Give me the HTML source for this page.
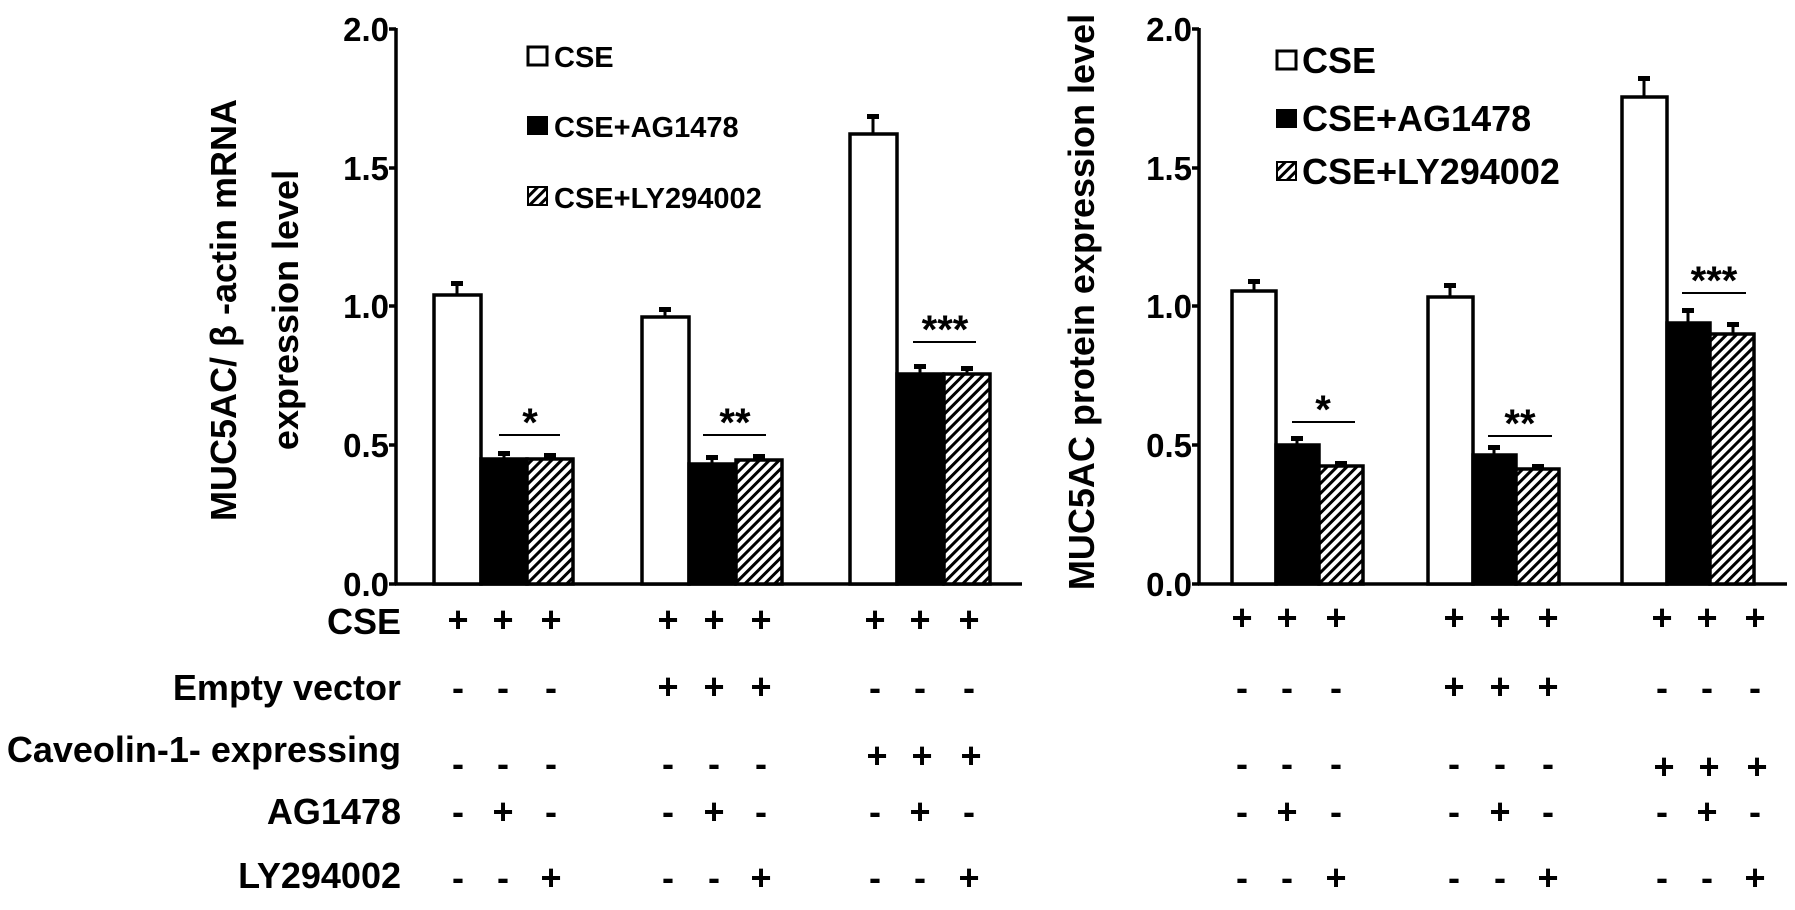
<!DOCTYPE html>
<html><head><meta charset="utf-8"><style>
html,body{margin:0;padding:0;background:#fff}
svg text{font-family:"Liberation Sans",Arial,sans-serif;font-weight:bold;fill:#000}
</style></head><body>
<svg width="1795" height="905" viewBox="0 0 1795 905" xmlns="http://www.w3.org/2000/svg">
<defs>
<pattern id="h" patternUnits="userSpaceOnUse" width="7" height="7" patternTransform="rotate(45)">
<rect width="7" height="7" fill="#fff"/><rect x="0" y="0" width="3" height="7" fill="#000"/>
</pattern>
</defs>
<g stroke="#000" stroke-width="3.5">
<line x1="396" y1="28" x2="396" y2="585"/>
<line x1="395" y1="584" x2="1022" y2="584"/>
<line x1="389" y1="29" x2="396" y2="29"/><line x1="389" y1="168" x2="396" y2="168"/><line x1="389" y1="306" x2="396" y2="306"/><line x1="389" y1="445" x2="396" y2="445"/><line x1="389" y1="584" x2="396" y2="584"/>
<line x1="1199" y1="28" x2="1199" y2="585"/>
<line x1="1198" y1="584" x2="1787" y2="584"/>
<line x1="1192" y1="29" x2="1199" y2="29"/><line x1="1192" y1="168" x2="1199" y2="168"/><line x1="1192" y1="306" x2="1199" y2="306"/><line x1="1192" y1="445" x2="1199" y2="445"/><line x1="1192" y1="584" x2="1199" y2="584"/>
</g>
<g stroke="#000" stroke-width="3">
<line x1="457" y1="295" x2="457" y2="283"/><line x1="504" y1="459" x2="504" y2="453"/><line x1="550" y1="459" x2="550" y2="455"/>
<line x1="665" y1="317" x2="665" y2="309"/><line x1="712" y1="464" x2="712" y2="457"/><line x1="759" y1="460" x2="759" y2="456"/>
<line x1="873" y1="134" x2="873" y2="116"/><line x1="920" y1="374" x2="920" y2="366"/><line x1="967" y1="374" x2="967" y2="368"/>
<line x1="1254" y1="291" x2="1254" y2="281"/><line x1="1297" y1="445" x2="1297" y2="438"/><line x1="1341" y1="466" x2="1341" y2="463"/>
<line x1="1450" y1="297" x2="1450" y2="285"/><line x1="1494" y1="455" x2="1494" y2="447"/><line x1="1538" y1="469" x2="1538" y2="466"/>
<line x1="1644" y1="97" x2="1644" y2="78"/><line x1="1688" y1="323" x2="1688" y2="310"/><line x1="1733" y1="334" x2="1733" y2="324"/>
</g>
<g fill="#000">
<rect x="451" y="281" width="12" height="5"/><rect x="498" y="451" width="12" height="5"/><rect x="544" y="453" width="12" height="5"/>
<rect x="659" y="307" width="12" height="5"/><rect x="706" y="455" width="12" height="5"/><rect x="753" y="454" width="12" height="5"/>
<rect x="867" y="114" width="12" height="5"/><rect x="914" y="364" width="12" height="5"/><rect x="961" y="366" width="12" height="5"/>
<rect x="1248" y="279" width="12" height="5"/><rect x="1291" y="436" width="12" height="5"/><rect x="1335" y="461" width="12" height="5"/>
<rect x="1444" y="283" width="12" height="5"/><rect x="1488" y="445" width="12" height="5"/><rect x="1532" y="464" width="12" height="5"/>
<rect x="1638" y="76" width="12" height="5"/><rect x="1682" y="308" width="12" height="5"/><rect x="1727" y="322" width="12" height="5"/>
</g>
<g stroke="#000" stroke-width="3.5">
<rect x="434" y="295" width="47" height="289" fill="#fff"/><rect x="481" y="459" width="46" height="125" fill="#000"/><rect x="527" y="459" width="46" height="125" fill="url(#h)"/>
<rect x="642" y="317" width="47" height="267" fill="#fff"/><rect x="689" y="464" width="46" height="120" fill="#000"/><rect x="736" y="460" width="46" height="124" fill="url(#h)"/>
<rect x="850" y="134" width="47" height="450" fill="#fff"/><rect x="897" y="374" width="46" height="210" fill="#000"/><rect x="944" y="374" width="46" height="210" fill="url(#h)"/>
<rect x="1232" y="291" width="44" height="293" fill="#fff"/><rect x="1276" y="445" width="43" height="139" fill="#000"/><rect x="1319" y="466" width="44" height="118" fill="url(#h)"/>
<rect x="1428" y="297" width="45" height="287" fill="#fff"/><rect x="1473" y="455" width="43" height="129" fill="#000"/><rect x="1516" y="469" width="43" height="115" fill="url(#h)"/>
<rect x="1622" y="97" width="45" height="487" fill="#fff"/><rect x="1667" y="323" width="43" height="261" fill="#000"/><rect x="1710" y="334" width="44" height="250" fill="url(#h)"/>
</g>
<g stroke="#000" stroke-width="2">
<line x1="499" y1="435" x2="560" y2="435"/><line x1="703" y1="435" x2="766" y2="435"/><line x1="913" y1="342" x2="976" y2="342"/>
<line x1="1292" y1="422" x2="1355" y2="422"/><line x1="1488" y1="436" x2="1552" y2="436"/><line x1="1682" y1="293" x2="1746" y2="293"/>
</g>
<g font-size="40" text-anchor="middle">
<text x="530" y="436">*</text><text x="735" y="436">**</text><text x="945" y="343">***</text>
<text x="1323" y="423">*</text><text x="1520" y="437">**</text><text x="1714" y="294">***</text>
</g>
<g font-size="33" text-anchor="end">
<text x="389" y="41">2.0</text><text x="389" y="180">1.5</text><text x="389" y="318">1.0</text><text x="389" y="457">0.5</text><text x="389" y="596">0.0</text>
<text x="1192" y="41">2.0</text><text x="1192" y="180">1.5</text><text x="1192" y="318">1.0</text><text x="1192" y="457">0.5</text><text x="1192" y="596">0.0</text>
</g>
<g font-size="36" text-anchor="middle">
<text transform="translate(236,310) rotate(-90)">MUC5AC/ β -actin mRNA</text>
<text transform="translate(298,310) rotate(-90)">expression level</text>
<text transform="translate(1094,302) rotate(-90)">MUC5AC protein expression level</text>
</g>
<rect x="528" y="47" width="19" height="18" fill="#fff" stroke="#000" stroke-width="3"/>
<text x="554" y="67" font-size="29">CSE</text>
<rect x="527" y="116" width="21" height="19" fill="#000"/>
<text x="554" y="137" font-size="29">CSE+AG1478</text>
<rect x="528" y="187" width="19" height="18" fill="url(#h)" stroke="#000" stroke-width="2"/>
<text x="554" y="208" font-size="29">CSE+LY294002</text>
<rect x="1277" y="51" width="19" height="18" fill="#fff" stroke="#000" stroke-width="3"/>
<text x="1302" y="73" font-size="36">CSE</text>
<rect x="1276" y="109" width="21" height="19" fill="#000"/>
<text x="1302" y="131" font-size="36">CSE+AG1478</text>
<rect x="1277" y="162" width="19" height="18" fill="url(#h)" stroke="#000" stroke-width="2"/>
<text x="1302" y="184" font-size="36">CSE+LY294002</text>
<g font-size="36" text-anchor="end">
<text x="401" y="634">CSE</text>
<text x="401" y="700">Empty vector</text>
<text x="401" y="762">Caveolin-1- expressing</text>
<text x="401" y="824">AG1478</text>
<text x="401" y="888">LY294002</text>
</g>
<g font-size="36" text-anchor="middle">
<text x="458" y="632">+</text><text x="503" y="632">+</text><text x="551" y="632">+</text><text x="668" y="632">+</text><text x="714" y="632">+</text><text x="761" y="632">+</text><text x="875" y="632">+</text><text x="920" y="632">+</text><text x="969" y="632">+</text>
<text x="1242" y="630">+</text><text x="1287" y="630">+</text><text x="1336" y="630">+</text><text x="1454" y="630">+</text><text x="1500" y="630">+</text><text x="1548" y="630">+</text><text x="1662" y="630">+</text><text x="1707" y="630">+</text><text x="1755" y="630">+</text>

<text x="458" y="700">-</text><text x="503" y="700">-</text><text x="551" y="700">-</text><text x="668" y="699">+</text><text x="714" y="699">+</text><text x="761" y="699">+</text><text x="875" y="700">-</text><text x="920" y="700">-</text><text x="969" y="700">-</text>
<text x="1242" y="700">-</text><text x="1287" y="700">-</text><text x="1336" y="700">-</text><text x="1454" y="699">+</text><text x="1500" y="699">+</text><text x="1548" y="699">+</text><text x="1662" y="700">-</text><text x="1707" y="700">-</text><text x="1755" y="700">-</text>

<text x="458" y="776">-</text><text x="503" y="776">-</text><text x="551" y="776">-</text><text x="668" y="776">-</text><text x="714" y="776">-</text><text x="761" y="776">-</text><text x="877" y="768">+</text><text x="922" y="768">+</text><text x="971" y="768">+</text>
<text x="1242" y="776">-</text><text x="1287" y="776">-</text><text x="1336" y="776">-</text><text x="1454" y="776">-</text><text x="1500" y="776">-</text><text x="1548" y="776">-</text><text x="1664" y="779">+</text><text x="1709" y="779">+</text><text x="1757" y="779">+</text>

<text x="458" y="824">-</text><text x="503" y="824">+</text><text x="551" y="824">-</text><text x="668" y="824">-</text><text x="714" y="824">+</text><text x="761" y="824">-</text><text x="875" y="824">-</text><text x="920" y="824">+</text><text x="969" y="824">-</text>
<text x="1242" y="824">-</text><text x="1287" y="824">+</text><text x="1336" y="824">-</text><text x="1454" y="824">-</text><text x="1500" y="824">+</text><text x="1548" y="824">-</text><text x="1662" y="824">-</text><text x="1707" y="824">+</text><text x="1755" y="824">-</text>

<text x="458" y="890">-</text><text x="503" y="890">-</text><text x="551" y="890">+</text><text x="668" y="890">-</text><text x="714" y="890">-</text><text x="761" y="890">+</text><text x="875" y="890">-</text><text x="920" y="890">-</text><text x="969" y="890">+</text>
<text x="1242" y="890">-</text><text x="1287" y="890">-</text><text x="1336" y="890">+</text><text x="1454" y="890">-</text><text x="1500" y="890">-</text><text x="1548" y="890">+</text><text x="1662" y="890">-</text><text x="1707" y="890">-</text><text x="1755" y="890">+</text>
</g>
</svg>
</body></html>
